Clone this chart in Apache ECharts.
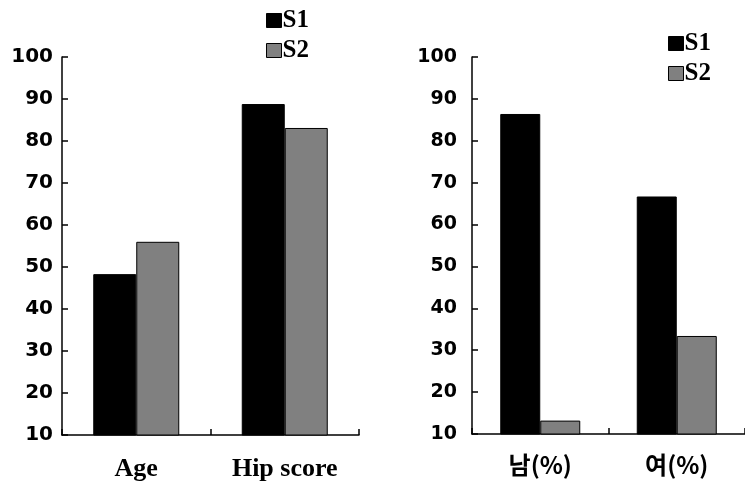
<!DOCTYPE html>
<html>
<head>
<meta charset="utf-8">
<script src="https://cdn.jsdelivr.net/npm/echarts@6/dist/echarts.min.js"></script>
<style>
html,body{margin:0;padding:0;background:#fff;}
#c{width:745px;height:485px;}
</style>
</head>
<body>
<div id="c"></div>
<script>
// Data
var leftCategories = ['Age', 'Hip score'];
var leftS1 = [48.3, 88.8];
var leftS2 = [56.0, 83.1];
var rightCategories = ['남(%)', '여(%)'];
var rightS1 = [86.4, 66.7];
var rightS2 = [13.2, 33.4];
var seriesNames = ['S1', 'S2'];
var yMin = 10, yMax = 100, yStep = 10;

var colors = ['#000000', '#808080'];
var serif = '"Liberation Serif", "Noto Sans CJK KR", serif';
var cjk = '"Noto Sans CJK KR", "DejaVu Sans", sans-serif';

function yAxis(gi, fs, margin) {
  return {
    type: 'value', gridIndex: gi, min: yMin, max: yMax, interval: yStep,
    axisLine: {show: true, lineStyle: {color: '#000', width: 1.5}},
    axisTick: {show: true, inside: true, length: 6, lineStyle: {color: '#000', width: 1.5}},
    splitLine: {show: false},
    axisLabel: {color: '#000', fontFamily: '"DejaVu Sans", sans-serif', fontWeight: 'bold', fontSize: fs, margin: margin}
  };
}
function xAxis(gi, cats, font, fs, margin) {
  return {
    type: 'category', gridIndex: gi, data: cats,
    axisLine: {show: true, lineStyle: {color: '#000', width: 1.5}},
    axisTick: {show: true, inside: true, length: 6, alignWithLabel: false, lineStyle: {color: '#000', width: 1.5}},
    axisLabel: {color: '#000', fontFamily: font, fontWeight: 'bold', fontSize: fs, margin: margin}
  };
}
function bar(name, gi, data, ci, bw) {
  return {
    name: name, type: 'bar', xAxisIndex: gi, yAxisIndex: gi, data: data,
    barWidth: bw, barGap: '0%',
    itemStyle: {color: colors[ci], borderColor: '#000', borderWidth: 1},
    animation: false
  };
}
function legend(left, top) {
  return {
    orient: 'vertical', left: left, top: top, itemWidth: 15, itemHeight: 14, itemGap: 5,
    icon: 'rect',
    data: seriesNames,
    textStyle: {color: '#000', fontFamily: serif, fontWeight: 'bold', fontSize: 25, padding: [0,0,0,-4]},
    itemStyle: {borderColor: '#000', borderWidth: 1},
    selectedMode: false
  };
}

var chart = echarts.init(document.getElementById('c'), null, {renderer: 'canvas'});
chart.setOption({
  animation: false,
  grid: [
    {left: 62, top: 57, width: 297, height: 378},
    {left: 472, top: 57, width: 280, height: 377}
  ],
  legend: [
    legend(261, 3),
    legend(663, 26)
  ],
  xAxis: [
    xAxis(0, leftCategories, serif, 26, 21),
    xAxis(1, rightCategories, cjk, 24, 19)
  ],
  yAxis: [
    yAxis(0, 20, 9),
    yAxis(1, 19, 15)
  ],
  series: [
    bar(seriesNames[0], 0, leftS1, 0, 43),
    bar(seriesNames[1], 0, leftS2, 1, 43),
    bar(seriesNames[0], 1, rightS1, 0, 40),
    bar(seriesNames[1], 1, rightS2, 1, 40)
  ]
});
</script>
</body>
</html>
